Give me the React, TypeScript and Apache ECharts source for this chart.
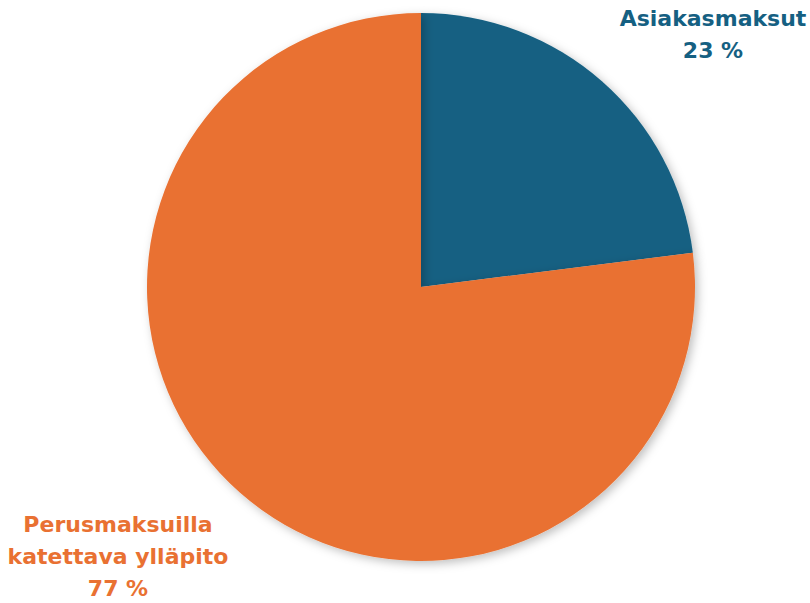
import React, { useEffect, useRef } from "react";
import * as echarts from "echarts";

const categories = ["Asiakasmaksut", "Perusmaksuilla\nkatettava ylläpito"];
const values = [23, 77];
const colors = ["#156082", "#E97132"];
const labelPos = [
  { x: 713, y: 34 },
  { x: 118, y: 556 },
];

export default function App() {
  const ref = useRef<HTMLDivElement>(null);
  useEffect(() => {
    const chart = echarts.init(ref.current!, null, { renderer: "svg" });
    chart.setOption({
      animation: false,
      series: [
        {
          type: "pie",
          center: [421, 287],
          radius: 274,
          startAngle: 90,
          clockwise: true,
          data: categories.map((c, i) => ({
            name: c,
            value: values[i],
            itemStyle: { color: colors[i] },
            label: { color: colors[i] },
          })),
          itemStyle: {
            shadowBlur: 10,
            shadowColor: "rgba(0,0,0,0.25)",
            shadowOffsetX: 3,
            shadowOffsetY: 3,
          },
          label: {
            show: true,
            position: "outside",
            formatter: (p: any) => `${p.name}\n${p.value} %`,
            fontFamily: "DejaVu Sans",
            fontWeight: "bold",
            fontSize: 22,
            lineHeight: 32,
            align: "center",
            overflow: "none",
            width: 400,
          },
          labelLine: { show: false },
          labelLayout: (p: any) => ({
            x: labelPos[p.dataIndex].x,
            y: labelPos[p.dataIndex].y,
            align: "center",
            verticalAlign: "middle",
          }),
          emphasis: { disabled: true },
        },
      ],
    });
    return () => chart.dispose();
  }, []);
  return (
    <div
      ref={ref}
      style={{ position: "fixed", left: 0, top: 0, width: 810, height: 603, background: "#fff" }}
    />
  );
}
